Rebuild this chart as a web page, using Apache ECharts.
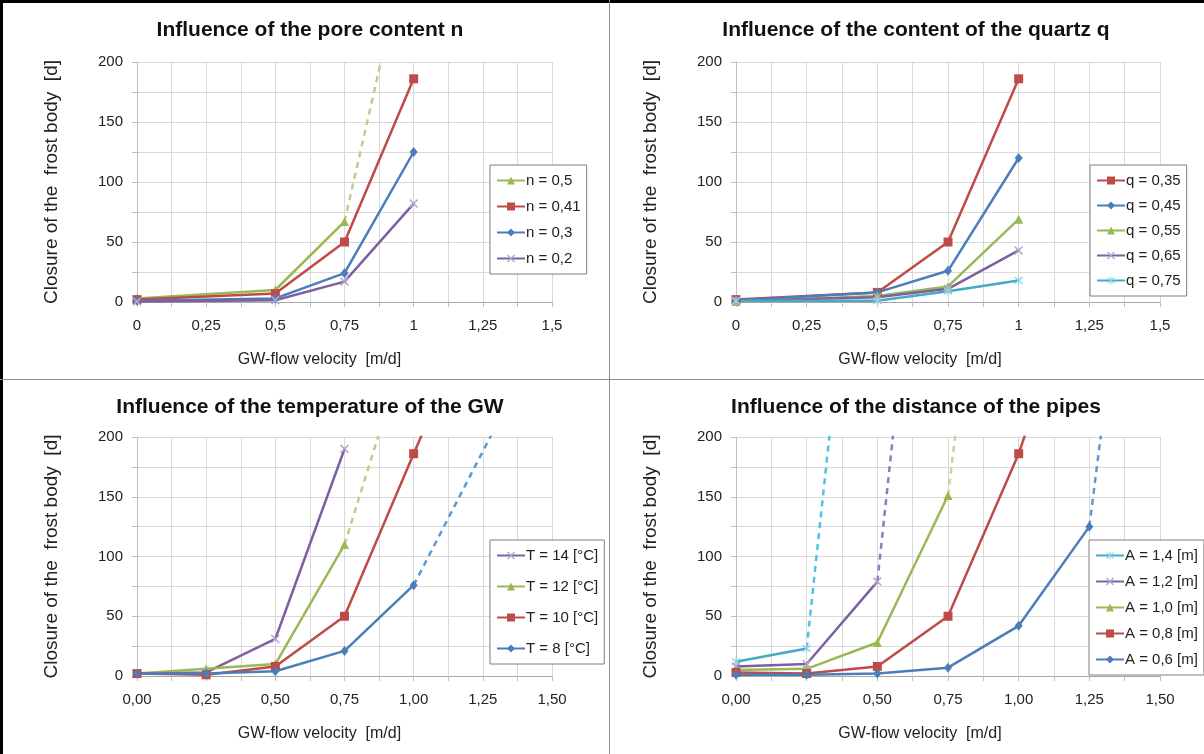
<!DOCTYPE html>
<html><head><meta charset="utf-8">
<script src="https://cdn.jsdelivr.net/npm/echarts@6/dist/echarts.min.js"></script>
<style>html,body{margin:0;padding:0;background:#fff}#c{width:1204px;height:754px}</style>
</head><body><div id="c"></div>
<script>
// ---- tick labels ----
const XLAB_A = ['0','0,25','0,5','0,75','1','1,25','1,5'];
const XLAB_B = ['0,00','0,25','0,50','0,75','1,00','1,25','1,50'];
const TITLES = ['Influence of the pore content n','Influence of the content of the quartz q','Influence of the temperature of the GW','Influence of the distance of the pipes'];
const X_NAME = 'GW-flow velocity  [m/d]';
const Y_NAME = 'Closure of the  frost body  [d]';

// ---- panel 1: pore content n ----
const P1_X = [0, 0.5, 0.75, 1];
const P1_N05 = [3, 10, 67];
const P1_N05_EXT_X = [0.75, 1], P1_N05_EXT_Y = [67, 320];
const P1_N041 = [2, 7, 50, 186];
const P1_N03 = [1, 3, 24, 125];
const P1_N02 = [0.5, 1.5, 17, 82];

// ---- panel 2: quartz q ----
const P2_X = [0, 0.5, 0.75, 1];
const P2_Q035 = [2, 8, 50, 186];
const P2_Q045 = [1.5, 8, 26, 120];
const P2_Q055 = [0.5, 5, 13, 69];
const P2_Q065 = [1, 4, 11, 43];
const P2_Q075 = [1, 1, 9, 18];

// ---- panel 3: temperature ----
const P3_X = [0, 0.25, 0.5, 0.75, 1];
const P3_T14 = [2, 3, 31, 190];
const P3_T12 = [2, 6, 10, 110];
const P3_T12_EXT_X = [0.75, 1], P3_T12_EXT_Y = [110, 296];
const P3_T10 = [2, 1, 8, 50, 186];
const P3_T10_EXT_X = [1, 1.25], P3_T10_EXT_Y = [186, 320];
const P3_T8 = [2, 2, 4, 21, 76];
const P3_T8_EXT_X = [1, 1.5], P3_T8_EXT_Y = [76, 300];

// ---- panel 4: pipe distance ----
const P4_X = [0, 0.25, 0.5, 0.75, 1, 1.25];
const P4_A14 = [12, 23];
const P4_A14_EXT_X = [0.25, 0.5], P4_A14_EXT_Y = [23, 576];
const P4_A12 = [8, 10, 79];
const P4_A12_EXT_X = [0.5, 0.75], P4_A12_EXT_Y = [79, 630];
const P4_A10 = [5, 6, 28, 151];
const P4_A10_EXT_X = [0.75, 1], P4_A10_EXT_Y = [151, 641];
const P4_A08 = [3, 2, 8, 50, 186];
const P4_A08_EXT_X = [1, 1.25], P4_A08_EXT_Y = [186, 361];
const P4_A06 = [1, 1, 2, 7, 42, 125];
const P4_A06_EXT_X = [1.25, 1.5], P4_A06_EXT_Y = [125, 594];

// ---- styles ----
const C = {blue:'#4A7EBB', red:'#BE4B48', green:'#98B954', purple:'#7D60A0', cyan:'#46AAC5'};
const XSYM = 'path://M0,1.2 L1.2,0 L5,3.8 L8.8,0 L10,1.2 L6.2,5 L10,8.8 L8.8,10 L5,6.2 L1.2,10 L0,8.8 L3.8,5 Z';
const STAR = 'path://M0,1.2 L1.2,0 L5,3.8 L8.8,0 L10,1.2 L6.2,5 L10,8.8 L8.8,10 L5,6.2 L1.2,10 L0,8.8 L3.8,5 Z M4.4,-1 L5.6,-1 L5.6,11 L4.4,11 Z';
const SYM = {
  tri: {symbol:'triangle', size:9},
  sq: {symbol:'rect', size:9},
  dia: {symbol:'diamond', size:[8,10]},
  x: {symbol:XSYM, size:9},
  star: {symbol:STAR, size:9}
};

function zip(xs, ys){ return ys.map((y,i)=>[xs[i], y]); }
function line(name, g, color, sym, xs, ys, markColor){
  return {type:'line', name, xAxisIndex:g, yAxisIndex:g, data:zip(xs,ys),
    symbol:SYM[sym].symbol, symbolSize:SYM[sym].size, showSymbol:true,
    lineStyle:{color, width:2.5}, itemStyle:{color: markColor || color},
    color, clip:true, z:3, animation:false};
}
function ext(name, g, color, xs, ys, dashed){
  return {type:'line', name, xAxisIndex:g, yAxisIndex:g, data:zip(xs,ys),
    symbol:'none', lineStyle:{color, width:2.5, type: dashed ? [6,5] : 'solid'},
    color, clip:true, z:2, silent:true, animation:false};
}

const grids = [
  {left:137, top:62, width:415, height:240},
  {left:736, top:62, width:424, height:240},
  {left:137, top:437, width:415, height:239},
  {left:736, top:437, width:424, height:239}
];
const GRIDC = '#D9D9D9';
function xAxis(i, labels, shift){
  return {type:'value', gridIndex:i, min:0, max:1.5, interval:0.25,
    name:X_NAME, nameLocation:'middle', nameGap:50,
    nameTextStyle:{fontSize:16, color:'#222', fontFamily:'Liberation Sans', padding:[0, shift, 0, 0]},
    axisLine:{show:true, lineStyle:{color:'#A6A6A6', width:1}},
    axisTick:{show:true, length:5, lineStyle:{color:'#BFBFBF'}},
    minorTick:{show:true, splitNumber:2, length:5, lineStyle:{color:'#BFBFBF'}},
    splitLine:{show:true, lineStyle:{color:GRIDC}},
    minorSplitLine:{show:true, lineStyle:{color:GRIDC}},
    axisLabel:{fontSize:15, color:'#222', margin:16, fontFamily:'Liberation Sans',
      formatter:v=>labels[Math.round(v/0.25)]}};
}
function yAxis(i){
  return {type:'value', gridIndex:i, min:0, max:200, interval:50,
    name:Y_NAME, nameLocation:'middle', nameGap:76, nameRotate:90,
    nameTextStyle:{fontSize:19, color:'#222', fontFamily:'Liberation Sans'},
    axisLine:{show:true, lineStyle:{color:'#BFBFBF'}},
    axisTick:{show:true, length:5, lineStyle:{color:'#BFBFBF'}},
    minorTick:{show:true, splitNumber:2, length:5, lineStyle:{color:'#BFBFBF'}},
    splitLine:{show:true, lineStyle:{color:GRIDC}},
    minorSplitLine:{show:true, lineStyle:{color:GRIDC}},
    axisLabel:{fontSize:15, color:'#222', margin:14, fontFamily:'Liberation Sans'}};
}

const series = [
  // panel 1
  ext('n05ext',0,'#B7D283',P1_N05_EXT_X,P1_N05_EXT_Y,true),
  line('n = 0,5',0,C.green,'tri',P1_X,P1_N05),
  line('n = 0,41',0,C.red,'sq',P1_X,P1_N041),
  line('n = 0,3',0,C.blue,'dia',P1_X,P1_N03),
  line('n = 0,2',0,C.purple,'x',P1_X,P1_N02,'#B3A5CC'),
  // panel 2
  line('q = 0,35',1,C.red,'sq',P2_X,P2_Q035),
  line('q = 0,45',1,C.blue,'dia',P2_X,P2_Q045),
  line('q = 0,55',1,C.green,'tri',P2_X,P2_Q055),
  line('q = 0,65',1,C.purple,'x',P2_X,P2_Q065,'#B3A5CC'),
  line('q = 0,75',1,C.cyan,'star',P2_X,P2_Q075,'#8FD3E6'),
  // panel 3
  ext('t12ext',2,'#B7D283',P3_T12_EXT_X,P3_T12_EXT_Y,true),
  ext('t10ext',2,C.red,P3_T10_EXT_X,P3_T10_EXT_Y,false),
  ext('t8ext',2,'#5B9BD5',P3_T8_EXT_X,P3_T8_EXT_Y,true),
  line('T = 14 [°C]',2,C.purple,'x',P3_X,P3_T14,'#B3A5CC'),
  line('T = 12 [°C]',2,C.green,'tri',P3_X,P3_T12),
  line('T = 10 [°C]',2,C.red,'sq',P3_X,P3_T10),
  line('T = 8 [°C]',2,C.blue,'dia',P3_X,P3_T8),
  // panel 4
  ext('a14ext',3,'#4FC3E6',P4_A14_EXT_X,P4_A14_EXT_Y,true),
  ext('a12ext',3,'#8E7CC3',P4_A12_EXT_X,P4_A12_EXT_Y,true),
  ext('a10ext',3,'#C3D69B',P4_A10_EXT_X,P4_A10_EXT_Y,true),
  ext('a08ext',3,C.red,P4_A08_EXT_X,P4_A08_EXT_Y,false),
  ext('a06ext',3,'#5B9BD5',P4_A06_EXT_X,P4_A06_EXT_Y,true),
  line('A = 1,4 [m]',3,C.cyan,'star',P4_X,P4_A14,'#8FD3E6'),
  line('A = 1,2 [m]',3,C.purple,'x',P4_X,P4_A12,'#B3A5CC'),
  line('A = 1,0 [m]',3,C.green,'tri',P4_X,P4_A10),
  line('A = 0,8 [m]',3,C.red,'sq',P4_X,P4_A08),
  line('A = 0,6 [m]',3,C.blue,'dia',P4_X,P4_A06)
];

function legend(names, left, top, gap){
  return {data:names, orient:'vertical', left, top, itemGap:gap, itemWidth:28, itemHeight:10,
    padding:[8,6,8,6], borderColor:'#7F7F7F', borderWidth:1, backgroundColor:'#fff',
    selectedMode:false, textStyle:{fontSize:15, color:'#222', fontFamily:'Liberation Sans', padding:[0,0,0,-4]}};
}

const titleStyle = {font:'bold 21px "Liberation Sans"', fill:'#111', textAlign:'center', textVerticalAlign:'middle'};
const option = {
  animation:false,
  backgroundColor:'#fff',
  grid: grids,
  xAxis:[xAxis(0,XLAB_A,50), xAxis(1,XLAB_A,56), xAxis(2,XLAB_B,50), xAxis(3,XLAB_B,56)],
  yAxis:[yAxis(0), yAxis(1), yAxis(2), yAxis(3)],
  legend:[
    legend(['n = 0,5','n = 0,41','n = 0,3','n = 0,2'], 490, 165, 11),
    legend(['q = 0,35','q = 0,45','q = 0,55','q = 0,65','q = 0,75'], 1090, 165, 10),
    legend(['T = 14 [°C]','T = 12 [°C]','T = 10 [°C]','T = 8 [°C]'], 490, 540, 16),
    legend(['A = 1,4 [m]','A = 1,2 [m]','A = 1,0 [m]','A = 0,8 [m]','A = 0,6 [m]'], 1089, 540, 11)
  ],
  graphic:[
    {type:'rect', shape:{x:0,y:0,width:1204,height:3}, style:{fill:'#000'}, silent:true},
    {type:'rect', shape:{x:0,y:0,width:3,height:754}, style:{fill:'#000'}, silent:true},
    {type:'line', shape:{x1:609.5,y1:0,x2:609.5,y2:754}, style:{stroke:'#8C8C8C', lineWidth:1}, silent:true},
    {type:'line', shape:{x1:0,y1:379.5,x2:1204,y2:379.5}, style:{stroke:'#8C8C8C', lineWidth:1}, silent:true},
    {type:'text', x:310, y:30, style:Object.assign({text:TITLES[0]}, titleStyle)},
    {type:'text', x:916, y:30, style:Object.assign({text:TITLES[1]}, titleStyle)},
    {type:'text', x:310, y:407, style:Object.assign({text:TITLES[2]}, titleStyle)},
    {type:'text', x:916, y:407, style:Object.assign({text:TITLES[3]}, titleStyle)}
  ],
  series
};
const chart = echarts.init(document.getElementById('c'), null, {renderer:'canvas'});
chart.setOption(option);
</script></body></html>
